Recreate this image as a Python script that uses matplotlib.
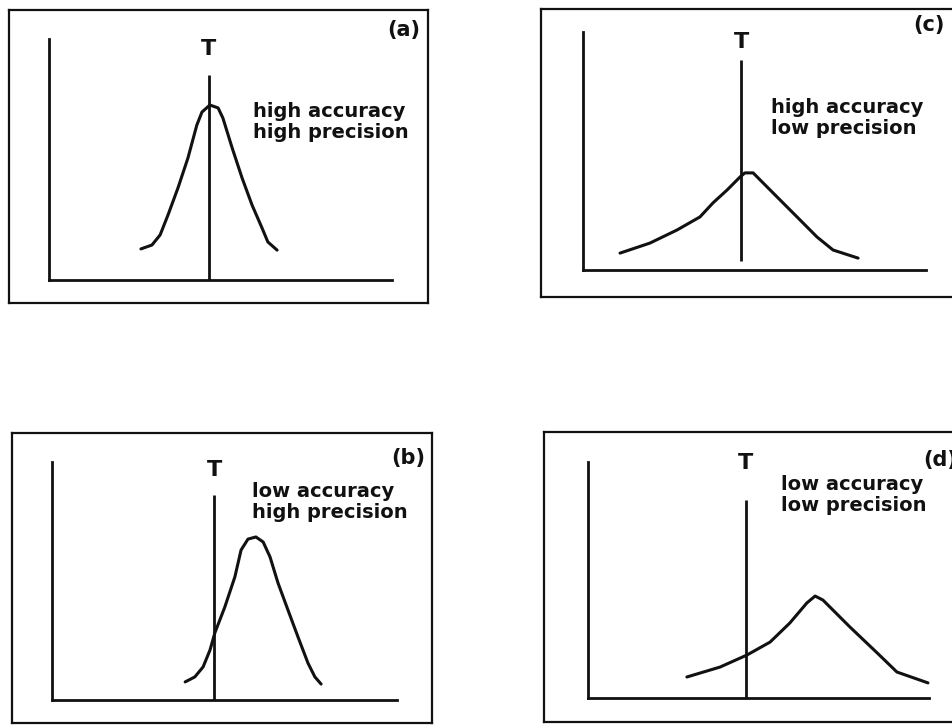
import matplotlib.pyplot as plt

# panel order: top-left, top-right, bottom-left, bottom-right
panel_labels = ['(a)', '(c)', '(b)', '(d)']
panel_notes = ['high accuracy\nhigh precision',
               'high accuracy\nlow precision',
               'low accuracy\nhigh precision',
               'low accuracy\nlow precision']

# true value T (x position) and extent of its vertical marker
true_x = [4.66, 4.61, 4.70, 4.63]
true_top = [0.851, 0.882, 0.861, 0.839]
true_bottom = [0.0, 0.038, 0.0, 0.0]

curve_a_x = [2.68, 3.00, 3.24, 3.47, 3.76, 4.05, 4.31, 4.46, 4.69, 4.93, 5.07, 5.34, 5.63, 5.92, 6.21, 6.38, 6.65]
curve_a_y = [0.129, 0.145, 0.187, 0.270, 0.382, 0.506, 0.643, 0.697, 0.726, 0.714, 0.672, 0.548, 0.423, 0.311, 0.216, 0.158, 0.124]

curve_c_x = [1.08, 1.95, 2.74, 3.41, 3.79, 4.20, 4.58, 4.72, 4.96, 5.54, 6.33, 6.82, 7.29, 8.02]
curve_c_y = [0.071, 0.113, 0.168, 0.223, 0.282, 0.336, 0.391, 0.408, 0.408, 0.324, 0.210, 0.139, 0.084, 0.050]

curve_b_x = [3.86, 4.14, 4.38, 4.58, 4.72, 5.01, 5.30, 5.48, 5.68, 5.91, 6.12, 6.32, 6.55, 6.84, 7.13, 7.42, 7.62, 7.80]
curve_b_y = [0.076, 0.097, 0.139, 0.210, 0.282, 0.391, 0.517, 0.630, 0.676, 0.685, 0.664, 0.601, 0.492, 0.378, 0.265, 0.155, 0.097, 0.067]

curve_d_x = [2.90, 3.87, 4.66, 5.34, 5.92, 6.42, 6.66, 6.89, 7.68, 8.48, 9.06, 9.97]
curve_d_y = [0.089, 0.131, 0.182, 0.237, 0.318, 0.403, 0.432, 0.415, 0.301, 0.191, 0.110, 0.064]

curves_x = [curve_a_x, curve_c_x, curve_b_x, curve_d_x]
curves_y = [curve_a_y, curve_c_y, curve_b_y, curve_d_y]

# layout in pixels (left, top, right, bottom)
W, H = 952, 725
outer_boxes = [(9, 10, 428, 303), (541, 9, 965, 297), (12, 433, 432, 723), (544, 432, 965, 722)]
inner_boxes = [(49, 39, 392, 280), (583, 32, 926, 270), (52, 462, 397, 700), (588, 462, 929, 698)]
note_pos = [(5.95, 0.739), (5.48, 0.723), (5.80, 0.916), (5.66, 0.945)]
t_label_y = [0.958, 0.958, 0.966, 0.996]
label_pos = [(0.981, 0.932, 'right'), (0.877, 0.944, 'left'),
             (0.983, 0.914, 'right'), (0.900, 0.903, 'left')]

ink = '#111111'


def rect(box):
    l, t, r, b = box
    return [l / W, 1 - b / H, (r - l) / W, (b - t) / H]


fig = plt.figure(figsize=(9.52, 7.25), dpi=100)

for i in range(4):
    # outer frame
    frame = fig.add_axes(rect(outer_boxes[i]))
    frame.set_xticks([])
    frame.set_yticks([])
    frame.patch.set_alpha(0)
    for s in frame.spines.values():
        s.set_linewidth(1.6)
        s.set_color(ink)
    lx, ly, ha = label_pos[i]
    frame.text(lx, ly, panel_labels[i], transform=frame.transAxes, ha=ha, va='center',
               fontsize=15, fontweight='bold', color=ink)

    # inner L-shaped plot
    ax = fig.add_axes(rect(inner_boxes[i]))
    ax.set_xlim(0, 10)
    ax.set_ylim(0, 1)
    ax.set_xticks([])
    ax.set_yticks([])
    ax.patch.set_alpha(0)
    ax.spines['top'].set_visible(False)
    ax.spines['right'].set_visible(False)
    for s in ['left', 'bottom']:
        ax.spines[s].set_linewidth(2.0)
        ax.spines[s].set_color(ink)

    ax.plot(curves_x[i], curves_y[i], color=ink, lw=2.2,
            solid_joinstyle='round', solid_capstyle='round', clip_on=False)
    ax.vlines(true_x[i], true_bottom[i], true_top[i], color=ink, lw=2.0)
    ax.text(true_x[i], t_label_y[i], 'T', ha='center', va='center',
            fontsize=16, fontweight='bold', color=ink, clip_on=False)
    nx, ny = note_pos[i]
    ax.text(nx, ny, panel_notes[i], ha='left', va='top', fontsize=14,
            fontweight='bold', color=ink, linespacing=1.15)

fig.savefig('out.png', dpi=100)
